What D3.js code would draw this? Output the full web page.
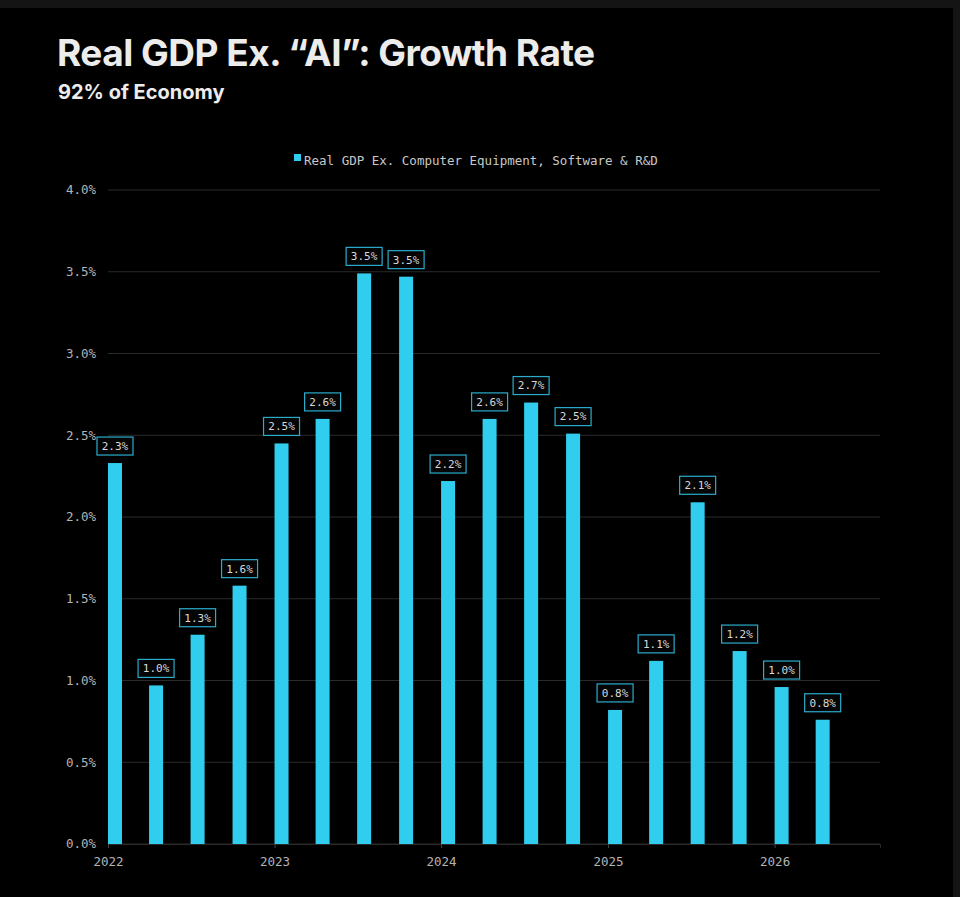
<!DOCTYPE html>
<html><head><meta charset="utf-8">
<script src="https://cdn.jsdelivr.net/npm/d3@7"></script>
<style>
body{margin:0;background:#141414;}
svg{display:block;}
</style></head>
<body>
<svg id="chart"></svg>
<script>
// -------------------- DATA ---------------------
const quarters = ["2022-01-01","2022-04-01","2022-07-01","2022-10-01","2023-01-01","2023-04-01","2023-07-01","2023-10-01","2024-01-01","2024-04-01","2024-07-01","2024-10-01","2025-01-01","2025-04-01","2025-07-01","2025-10-01","2026-01-01","2026-04-01"];
const growth = [2.33, 0.97, 1.28, 1.58, 2.45, 2.60, 3.49, 3.47, 2.22, 2.60, 2.70, 2.51, 0.82, 1.12, 2.09, 1.18, 0.96, 0.76];
const yTicks = [0, 0.5, 1, 1.5, 2, 2.5, 3, 3.5, 4];
const yearTicks = ["2022-01-01","2023-01-01","2024-01-01","2025-01-01","2026-01-01"];

const W = 960, H = 897;
const margin = { t: 190, r: 80, b: 53, l: 108 };
const parse = d3.timeParse("%Y-%m-%d");
const data = quarters.map((q, i) => ({ date: parse(q), v: growth[i] }));

const svg = d3.select("#chart").attr("width", W).attr("height", H);
svg.append("rect").attr("x", 0).attr("y", 8).attr("width", W - 7).attr("height", H - 8).attr("fill", "#000");

const x = d3.scaleTime()
	.domain([parse("2022-01-01"), parse("2026-08-20")])
	.range([margin.l, W - margin.r]);
const y = d3.scaleLinear().domain([0, 4]).range([H - margin.b, margin.t]);
const mono = "'DejaVu Sans Mono', 'Liberation Mono', monospace";
const barColor = "#31cdee";

// -------------------- TITLES ---------------------
svg.append("text").attr("x", 57).attr("y", 66)
	.attr("fill", "#ececec").attr("font-family", "Inter, 'Noto Sans', sans-serif")
	.attr("font-weight", 700).attr("font-size", 37).attr("letter-spacing", -0.5)
	.text("Real GDP Ex. “AI”: Growth Rate");
svg.append("text").attr("x", 58).attr("y", 99)
	.attr("fill", "#ececec").attr("font-family", "Inter, 'Noto Sans', sans-serif")
	.attr("font-weight", 700).attr("font-size", 20)
	.text("92% of Economy");

// legend
const lg = svg.append("g").attr("transform", "translate(294,160)");
lg.append("rect").attr("x", 0).attr("y", -6).attr("width", 7).attr("height", 7).attr("fill", barColor);
lg.append("text").attr("x", 10).attr("y", 1).attr("dy", "0.32em")
	.attr("fill", "#c8c8c8").attr("font-family", mono).attr("font-size", 12.5)
	.text("Real GDP Ex. Computer Equipment, Software & R&D");

// -------------------- AXES ---------------------
const grid = svg.append("g");
grid.selectAll("line").data(yTicks).join("line")
	.attr("x1", margin.l).attr("x2", W - margin.r)
	.attr("y1", d => y(d)).attr("y2", d => y(d))
	.attr("stroke", "#2a2a2a").attr("stroke-width", 1);
grid.selectAll("text").data(yTicks).join("text")
	.attr("x", 96).attr("y", d => y(d)).attr("dy", "0.35em")
	.attr("text-anchor", "end").attr("fill", "#b4b4b4")
	.attr("font-family", mono).attr("font-size", 12.5)
	.text(d => d.toFixed(1) + "%");

const xAxis = svg.append("g").attr("transform", `translate(0,${y(0)})`)
	.call(d3.axisBottom(x).tickValues(yearTicks.map(parse)).tickFormat(d3.timeFormat("%Y")).tickSize(4));
xAxis.select(".domain").attr("stroke", "#2a2a2a");
xAxis.selectAll(".tick line").attr("stroke", "#444");
xAxis.selectAll("text").attr("fill", "#b4b4b4").attr("font-family", mono).attr("font-size", 12.5).attr("dy", "1.2em");

// -------------------- BARS ---------------------
const barW = 14;
svg.append("g").selectAll("rect").data(data).join("rect")
	.attr("x", d => x(d.date)).attr("y", d => y(d.v))
	.attr("width", barW).attr("height", d => y(0) - y(d.v))
	.attr("fill", barColor);

const labels = svg.append("g").selectAll("g").data(data).join("g")
	.attr("transform", d => `translate(${x(d.date) + barW / 2},${y(d.v) - 17})`);
labels.append("rect").attr("x", -18).attr("y", -9).attr("width", 36).attr("height", 18)
	.attr("fill", "#050505").attr("stroke", "#2aaccc").attr("stroke-width", 1.2);
labels.append("text").attr("text-anchor", "middle").attr("dy", "0.35em")
	.attr("fill", "#d8d8d8").attr("font-family", mono).attr("font-size", 11)
	.text(d => d.v.toFixed(1) + "%");
</script>
</body></html>
